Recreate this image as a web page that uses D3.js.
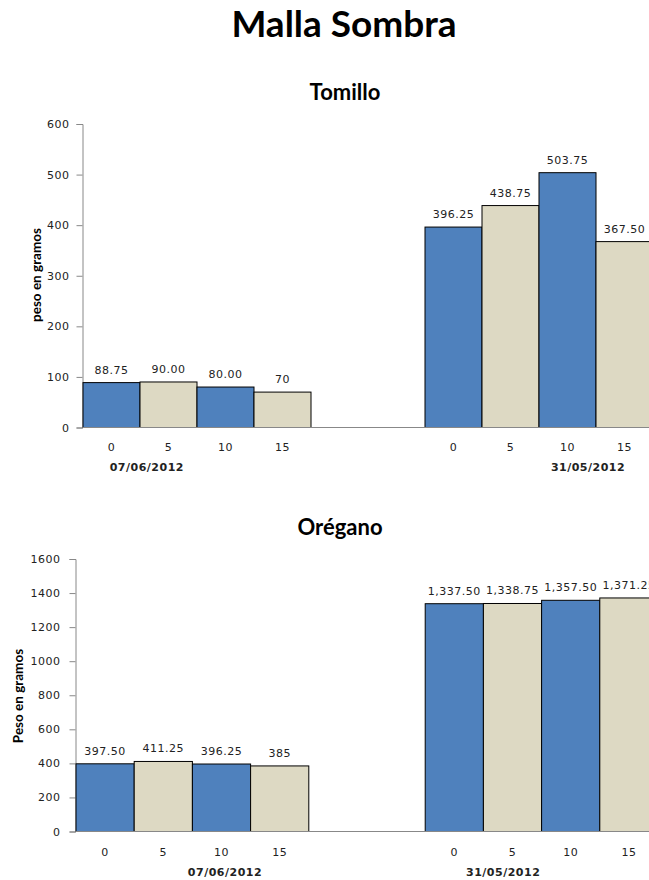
<!DOCTYPE html>
<html>
<head>
<meta charset="utf-8">
<script src="https://cdn.jsdelivr.net/npm/d3@7"></script>
<style>
  html, body { margin: 0; padding: 0; background: #fff; }
  svg { display: block; }
  .tick-label, .value-label { font-family: "DejaVu Sans", Verdana, sans-serif; font-size: 11px; letter-spacing: 0.5px; fill: #222; }
  .date-label { font-family: "DejaVu Sans", Verdana, sans-serif; font-size: 11px; font-weight: bold; letter-spacing: 0.5px; fill: #222; }
  .title { font-family: Lato, "Open Sans", sans-serif; font-weight: bold; fill: #000; }
</style>
</head>
<body>
<script>
// Treatment levels (shade %) and the two harvest dates
const categories = ["0", "5", "10", "15"];
const dates = ["07/06/2012", "31/05/2012"];

// Tomillo: weight in grams per treatment, by date
const tomilloJun07 = [88.75, 90.00, 80.00, 70];
const tomilloMay31 = [396.25, 438.75, 503.75, 367.50];
const tomilloJun07Labels = ["88.75", "90.00", "80.00", "70"];
const tomilloMay31Labels = ["396.25", "438.75", "503.75", "367.50"];
const tomilloTicks = [0, 100, 200, 300, 400, 500, 600];

// Orégano: weight in grams per treatment, by date
const oreganoJun07 = [397.50, 411.25, 396.25, 385];
const oreganoMay31 = [1337.50, 1338.75, 1357.50, 1371.25];
const oreganoJun07Labels = ["397.50", "411.25", "396.25", "385"];
const oreganoMay31Labels = ["1,337.50", "1,338.75", "1,357.50", "1,371.25"];
const oreganoTicks = [0, 200, 400, 600, 800, 1000, 1200, 1400, 1600];

const barColors = ["#4F81BD", "#DDD9C3", "#4F81BD", "#DDD9C3"];

const W = 649, H = 880;
const svg = d3.select("body").append("svg").attr("width", W).attr("height", H);

svg.append("text").attr("class", "title")
  .attr("x", 344).attr("y", 37).attr("text-anchor", "middle")
  .style("font-size", "37px").text("Malla Sombra");

function drawChart(cfg) {
  const g = svg.append("g");
  // slot layout: 4 bars, 2 empty slots, 4 bars
  const slots = d3.range(10);
  const x = d3.scaleBand().domain(slots).range([cfg.x0, cfg.x1]).padding(0);
  const y = d3.scaleLinear().domain([0, cfg.yMax]).range([cfg.yBottom, cfg.yTop]);

  const groups = [
    { date: dates[0], values: cfg.first, labels: cfg.firstLabels, start: 0, anchor: cfg.anchors[0] },
    { date: dates[1], values: cfg.second, labels: cfg.secondLabels, start: 6, anchor: cfg.anchors[1] }
  ];

  // chart title
  g.append("text").attr("class", "title")
    .attr("x", cfg.titleX).attr("y", cfg.titleY).attr("text-anchor", "middle")
    .style("font-size", "22px").text(cfg.title);

  // y axis
  const yAxis = d3.axisLeft(y).tickValues(cfg.ticks).tickSize(6).tickPadding(cfg.tickPad).tickFormat(d3.format("d"));
  const ya = g.append("g").attr("transform", `translate(${cfg.axisX},0)`).call(yAxis);
  ya.attr("font-size", null).attr("font-family", null);
  ya.select(".domain").attr("stroke", "#888");
  ya.selectAll(".tick line").attr("stroke", "#888");
  ya.selectAll(".tick text").attr("class", "tick-label").attr("fill", null);

  // y axis title
  g.append("text").attr("class", "title")
    .attr("transform", `translate(${cfg.yTitleX},${cfg.yTitleY}) rotate(-90)`)
    .attr("text-anchor", "middle").style("font-size", "13.5px").text(cfg.yTitle);

  groups.forEach(grp => {
    const data = grp.values.map((v, i) => ({ v, i, slot: grp.start + i, label: grp.labels[i] }));
    g.selectAll(null).data(data).enter().append("rect")
      .attr("x", d => x(d.slot)).attr("y", d => y(d.v))
      .attr("width", x.bandwidth()).attr("height", d => y(0) - y(d.v))
      .attr("fill", d => barColors[d.i]).attr("stroke", "#000").attr("stroke-width", 1);

    g.selectAll(null).data(data).enter().append("text").attr("class", "value-label")
      .attr("x", d => x(d.slot) + x.bandwidth() / 2).attr("y", d => y(d.v) - 9)
      .attr("text-anchor", "middle").text(d => d.label);

    g.selectAll(null).data(data).enter().append("text").attr("class", "tick-label")
      .attr("x", d => x(d.slot) + x.bandwidth() / 2).attr("y", cfg.catY)
      .attr("text-anchor", "middle").text(d => categories[d.i]);

    const gx0 = x(grp.start), gx1 = x(grp.start + 3) + x.bandwidth();
    g.append("text").attr("class", "date-label")
      .attr("x", gx0 + (gx1 - gx0) * grp.anchor).attr("y", cfg.dateY)
      .attr("text-anchor", "middle").text(grp.date);
  });

  // category axis line
  g.append("line").attr("x1", cfg.axisX).attr("x2", W)
    .attr("y1", y(0)).attr("y2", y(0)).attr("stroke", "#888");
}

drawChart({
  title: "Tomillo", titleX: 345, titleY: 100,
  yTitle: "peso en gramos", yTitleX: 41, yTitleY: 275,
  first: tomilloJun07, firstLabels: tomilloJun07Labels,
  second: tomilloMay31, secondLabels: tomilloMay31Labels,
  ticks: tomilloTicks, yMax: 600, tickPad: 7,
  x0: 83, x1: 653, axisX: 82.5, yTop: 124, yBottom: 427.5,
  catY: 451, dateY: 471, anchors: [0.28, 0.715]
});

drawChart({
  title: "Orégano", titleX: 340, titleY: 535,
  yTitle: "Peso en gramos", yTitleX: 23, yTitleY: 696,
  first: oreganoJun07, firstLabels: oreganoJun07Labels,
  second: oreganoMay31, secondLabels: oreganoMay31Labels,
  ticks: oreganoTicks, yMax: 1600, tickPad: 9,
  x0: 76, x1: 658, axisX: 75.5, yTop: 559, yBottom: 831.5,
  catY: 856, dateY: 876, anchors: [0.64, 0.335]
});
</script>
</body>
</html>
